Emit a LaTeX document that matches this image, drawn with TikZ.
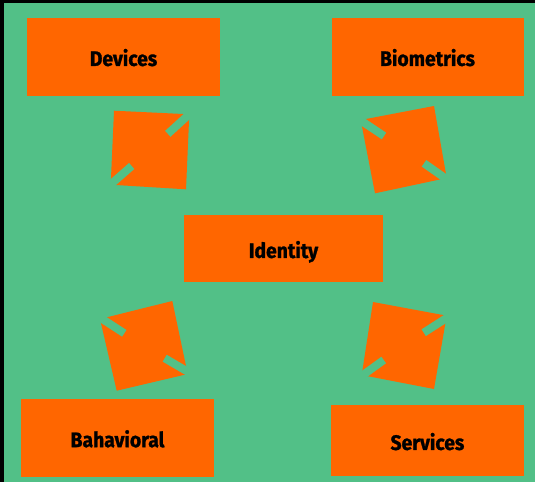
\documentclass[tikz,border=0pt]{standalone}
\usepackage{fontspec}
\setmainfont{Fira Sans}[FakeStretch=0.92, BoldFeatures={FakeBold=1.2}]
\usetikzlibrary{calc}
\definecolor{bggreen}{HTML}{52C087}
\definecolor{boxorange}{HTML}{FF6600}
\tikzset{
  box/.style={fill=boxorange, draw=none, inner sep=0pt,
    font=\fontsize{21}{25}\selectfont\bfseries, text=black,
    text height=18.5pt, text depth=0pt},
  arrowbody/.style={fill=boxorange},
  slit/.style={draw=bggreen, line width=8pt, line cap=butt},
}
\begin{document}
\begin{tikzpicture}[x=1pt,y=-1pt]
\useasboundingbox (0,0) rectangle (535,482);
\fill[bggreen] (0,0) rectangle (535,482);
\fill[black] (0,0) rectangle (4,482);
\fill[black] (0,0) rectangle (535,3);

% boxes
\node[box, minimum width=193pt, minimum height=78pt] (devices) at (123.5,56.7) {Devices};
\node[box, minimum width=192pt, minimum height=78pt] (biometrics) at (427.5,56.7) {Biometrics};
\node[box, minimum width=199pt, minimum height=67pt] (identity) at (283.5,248.7) {Identity};
\node[box, minimum width=193pt, minimum height=78pt] (behavioral) at (117.5,437.9) {Bahavioral};
\node[box, minimum width=193pt, minimum height=71pt] (services) at (427.4,440.7) {Services};

% arrow 1 (Devices - Identity)
\coordinate (c1) at (150,150);
\fill[arrowbody] (114,110.7) -- (189.3,114.3) -- (186,189.3) -- (110.7,184.7) -- cycle;
\coordinate (s1a) at (167.8,133.8);
\coordinate (s1b) at (131.7,166);
\draw[slit] (s1a) -- ($(c1)!2.7!(s1a)$);
\draw[slit] (s1b) -- ($(c1)!2.7!(s1b)$);

% arrow 2 (Biometrics - Identity)
\coordinate (c2) at (404,149.3);
\fill[arrowbody] (360.7,120) -- (434,106) -- (446.7,178) -- (375,193.3) -- cycle;
\coordinate (s2a) at (384,136);
\coordinate (s2b) at (424,163.3);
\draw[slit] (s2a) -- ($(c2)!2.7!(s2a)$);
\draw[slit] (s2b) -- ($(c2)!2.7!(s2b)$);

% arrow 3 (Identity - Bahavioral)
\coordinate (c3) at (144.2,346.2);
\fill[arrowbody] (100,319) -- (172.3,301) -- (187.7,374) -- (116.7,390.7) -- cycle;
\coordinate (s3a) at (124.3,333.3);
\coordinate (s3b) at (164.7,358.2);
\draw[slit] (s3a) -- ($(c3)!2.7!(s3a)$);
\draw[slit] (s3b) -- ($(c3)!2.7!(s3b)$);

% arrow 4 (Identity - Services)
\coordinate (c4) at (403.9,345.4);
\fill[arrowbody] (373,302) -- (446.7,315.7) -- (434,389) -- (361.7,375) -- cycle;
\coordinate (s4a) at (423.7,332.7);
\coordinate (s4b) at (383.7,360);
\draw[slit] (s4a) -- ($(c4)!2.7!(s4a)$);
\draw[slit] (s4b) -- ($(c4)!2.7!(s4b)$);
\end{tikzpicture}
\end{document}
